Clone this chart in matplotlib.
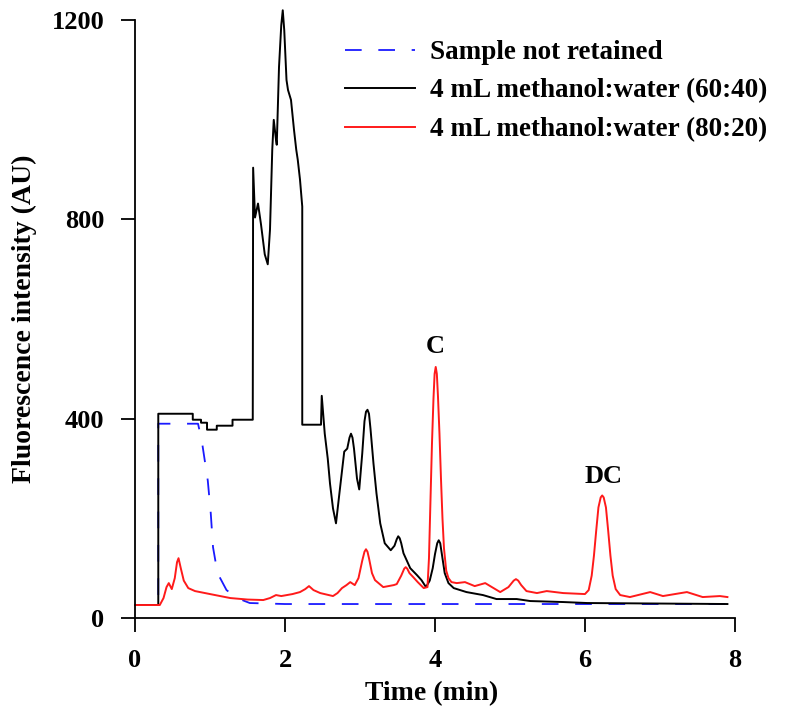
import numpy as np
import matplotlib
matplotlib.use('Agg')
import matplotlib.pyplot as plt

# setup
plt.rcParams['font.family'] = ['Liberation Serif', 'DejaVu Serif']
plt.rcParams['font.weight'] = 'bold'
plt.rcParams['lines.scale_dashes'] = False
fontsize = 19

# data (time in min, intensity in AU)
t_blank = [0, 0.31, 0.31, 0.84, 0.89, 0.97, 1.01, 1.04, 1.10, 1.22, 1.36, 1.53, 2.0, 7.9]
y_blank = [26, 26, 390, 390, 356, 276, 210, 142, 90, 56, 40, 30, 28, 28]

t_6040 = [0, 0.31, 0.31, 0.77, 0.77, 0.88, 0.88, 0.96, 0.96, 1.09, 1.09, 1.30, 1.30, 1.57,
          1.575, 1.60, 1.64, 1.68, 1.73, 1.77, 1.80, 1.83, 1.85, 1.88, 1.89, 1.92, 1.95, 1.97,
          1.99, 2.02, 2.04, 2.08, 2.12, 2.15, 2.17, 2.20, 2.23, 2.23, 2.48, 2.49, 2.53, 2.57,
          2.60, 2.64, 2.68, 2.73, 2.79, 2.83, 2.86, 2.88, 2.90, 2.92, 2.96, 2.99, 3.03, 3.06,
          3.08, 3.10, 3.12, 3.14, 3.18, 3.22, 3.27, 3.33, 3.41, 3.46, 3.49, 3.51, 3.53, 3.55,
          3.58, 3.67, 3.76, 3.82, 3.88, 3.93, 3.97, 4.00, 4.03, 4.05, 4.07, 4.09, 4.13, 4.18,
          4.25, 4.42, 4.64, 4.82, 5.09, 5.27, 5.71, 6.03, 7.9]
y_6040 = [26, 26, 410, 410, 398, 398, 392, 392, 378, 378, 386, 386, 398, 398,
          904, 804, 832, 790, 730, 710, 780, 940, 1000, 960, 950, 1106, 1190, 1220,
          1180, 1080, 1060, 1040, 980, 940, 920, 880, 826, 388, 388, 446, 370, 320,
          270, 220, 190, 256, 334, 340, 362, 370, 362, 340, 280, 258, 330, 395,
          414, 418, 410, 380, 310, 250, 190, 150, 136, 145, 158, 164, 160, 150,
          130, 100, 86, 76, 62, 75, 100, 128, 150, 156, 150, 130, 90, 70,
          60, 52, 46, 38, 38, 34, 32, 30, 28]

t_8020 = [0, 0.33, 0.38, 0.42, 0.45, 0.49, 0.53, 0.56, 0.58, 0.61, 0.65, 0.71, 0.80, 1.0,
          1.27, 1.5, 1.71, 1.80, 1.88, 1.95, 2.10, 2.20, 2.27, 2.32, 2.38, 2.47, 2.64, 2.70,
          2.76, 2.82, 2.87, 2.93, 2.98, 3.03, 3.06, 3.08, 3.10, 3.12, 3.16, 3.20, 3.31, 3.45,
          3.49, 3.55, 3.59, 3.61, 3.63, 3.66, 3.71, 3.77, 3.85, 3.90, 3.92, 3.94, 3.96, 3.98,
          3.995, 4.01, 4.025, 4.04, 4.06, 4.08, 4.10, 4.12, 4.15, 4.18, 4.22, 4.29,
          4.40, 4.53, 4.67, 4.87, 4.98, 5.05, 5.08, 5.11, 5.15, 5.22, 5.36, 5.49, 5.71, 6.0,
          6.05, 6.09, 6.12, 6.15, 6.18, 6.21, 6.23, 6.25, 6.28, 6.31, 6.34, 6.37, 6.41, 6.47,
          6.60, 6.87, 7.04, 7.36, 7.57, 7.8, 7.9]
y_8020 = [26, 26, 40, 62, 70, 58, 80, 112, 120, 100, 75, 60, 54, 48,
          40, 37, 36, 40, 46, 44, 48, 52, 58, 64, 56, 50, 44, 50,
          60, 66, 72, 66, 80, 115, 133, 138, 133, 120, 90, 76, 62, 66,
          68, 85, 99, 102, 99, 90, 82, 72, 60, 62, 120, 236, 350, 440,
          490, 504, 490, 445, 370, 280, 200, 140, 95, 80, 72, 70,
          72, 64, 70, 52, 62, 75, 78, 75, 66, 54, 50, 54, 50, 48,
          56, 85, 125, 175, 222, 242, 246, 242, 222, 175, 125, 85, 58, 46,
          42, 52, 44, 52, 42, 44, 42]

labels = ['Sample not retained', '4 mL methanol:water (60:40)', '4 mL methanol:water (80:20)']
xticks = [0, 2, 4, 6, 8]
yticks = [0, 400, 800, 1200]

# draw plot
fig = plt.figure(figsize=(7.86, 7.15), dpi=100)
ax = fig.add_axes([0.1718, 0.1357, 0.7632, 0.836])

ax.plot(t_blank, y_blank, color='#1a1aff', lw=1.3, dashes=(12, 12), label=labels[0], clip_on=False)
ax.plot(t_6040, y_6040, color='black', lw=1.4, label=labels[1], clip_on=False)
ax.plot(t_8020, y_8020, color='#ff1a1a', lw=1.4, label=labels[2], clip_on=False)

ax.set_xlim(0, 8)
ax.set_ylim(0, 1200)
ax.set_xticks(xticks)
ax.set_yticks(yticks)
ax.tick_params(direction='out', length=10, width=1.3, labelsize=fontsize)
ax.tick_params(axis='x', pad=12)
ax.tick_params(axis='y', pad=12)
for s in ['top', 'right']:
    ax.spines[s].set_visible(False)
for s in ['left', 'bottom']:
    ax.spines[s].set_linewidth(1.3)

ax.set_xlabel('Time (min)', fontsize=20, fontweight='bold')
ax.set_ylabel('Fluorescence intensity (AU)', fontsize=20, fontweight='bold')
ax.xaxis.set_label_coords(0.495, -0.105)
ax.yaxis.set_label_coords(-0.163, 0.5)

ax.text(4.0, 546, 'C', fontsize=fontsize, fontweight='bold', ha='center', va='center')
ax.text(6.25, 284, 'DC', fontsize=fontsize, fontweight='bold', ha='center', va='center')

ax.legend(loc='upper left', bbox_to_anchor=(345 / 786, 1 - 40 / 715), bbox_transform=fig.transFigure,
          frameon=False, handlelength=2.6, handletextpad=0.55,
          labelspacing=0.5, borderpad=0, borderaxespad=0,
          prop={'weight': 'bold', 'size': 19.5})

plt.savefig('out.png', dpi=100)
